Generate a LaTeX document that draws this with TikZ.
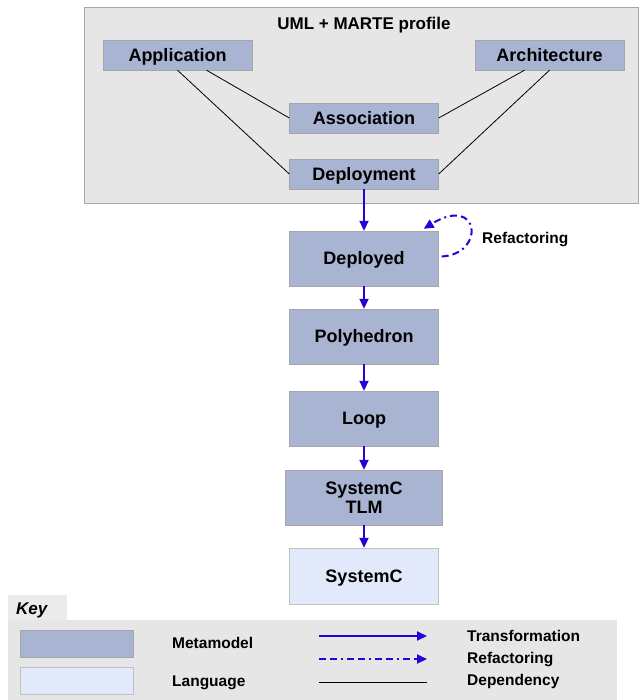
\documentclass[tikz,border=0pt]{standalone}
\usepackage{fontspec}
\setmainfont{Liberation Sans}
\usetikzlibrary{arrows.meta}

\definecolor{metafill}{HTML}{A9B4D3}
\definecolor{langfill}{HTML}{E1E9FB}
\definecolor{panelfill}{HTML}{E6E6E6}
\definecolor{panelline}{HTML}{A6A6A6}
\definecolor{flowblue}{HTML}{2A00D8}

\begin{document}
\begin{tikzpicture}
  [x=1pt,y=-1pt,every node/.style={inner sep=0pt,text depth=0pt,font=\bfseries\fontsize{18}{21}\selectfont}]

  \tikzstyle{metamodel} = [draw=panelline, fill=metafill, minimum width=149pt, minimum height=30pt, align=center, text height=12.9pt]
  \tikzstyle{language}  = [metamodel, draw=panelline!70, fill=langfill]
  \tikzstyle{keytext}   = [anchor=west, text height=11.1pt, font=\bfseries\fontsize{15.5}{18}\selectfont]
  \tikzstyle{transform} = [-{Triangle[length=10pt,width=9pt]}, flowblue, line width=2pt]
  \tikzstyle{refactor}  = [transform, dash pattern=on 7pt off 4pt on 7pt off 4pt on 2pt off 4pt]
  \tikzstyle{dependency}= [black, line width=0.8pt]

  \useasboundingbox (0,0) rectangle (639,700);

  % profile panel
  \draw[panelline, fill=panelfill, line width=1pt] (84,8) rectangle (638.5,203.5);
  \node[text height=12.2pt] (profile) at (364,23) {\fontsize{17}{20}\selectfont UML + MARTE profile};

  \node[metamodel] (app)    at (177.5,55) {Application};
  \node[metamodel] (arch)   at (549.5,55) {Architecture};
  \node[metamodel] (assoc)  at (364,118)  {Association};
  \node[metamodel] (deploy) at (364,174)  {Deployment};

  \draw[dependency] ([xshift=29pt]app.south)   -- (assoc.west);
  \draw[dependency] (app.south)                -- (deploy.west);
  \draw[dependency] ([xshift=-25pt]arch.south) -- (assoc.east);
  \draw[dependency] (arch.south)               -- (deploy.east);

  % transformation chain
  \node[metamodel, minimum height=55pt] (deployed) at (364,258.5) {Deployed};
  \node[metamodel, minimum height=55pt] (poly)     at (364,336.5) {Polyhedron};
  \node[metamodel, minimum height=55pt] (loop)     at (364,418.5) {Loop};
  \node[metamodel, minimum height=55pt, minimum width=157pt, text height=31.9pt] (tlm) at (364,497.5) {SystemC\\[-2pt]TLM};
  \node[language, minimum height=56pt]  (sysc)     at (364,576)   {SystemC};

  \draw[transform] (deploy)   -- (deployed);
  \draw[transform] (deployed) -- (poly);
  \draw[transform] (poly)     -- (loop);
  \draw[transform] (loop)     -- (tlm);
  \draw[transform] (tlm)      -- (sysc);

  \draw[refactor] ([xshift=3pt,yshift=2pt]deployed.east)
        .. controls (486,254) and (480,194) .. ([xshift=-15pt,yshift=2pt]deployed.north east);
  \node[keytext] (reflabel) at (482,238) {Refactoring};

  % key
  \fill[panelfill!80!white] (8,595) rectangle (67,620);
  \fill[panelfill] (8,620) rectangle (617,700);
  \node[anchor=west, text height=12.2pt, font=\bfseries\itshape\fontsize{17}{20}\selectfont] (key) at (16,608) {Key};

  \node[metamodel, minimum width=113pt, minimum height=27pt] (metaswatch) at (76.5,643.5) {};
  \node[language,  minimum width=113pt, minimum height=27pt] (langswatch) at (76.5,680.5) {};
  \node[keytext] (metatext) at (172,643) {Metamodel};
  \node[keytext] (langtext) at (172,681) {Language};

  \coordinate (ta) at (319,636);  \coordinate (tb) at (427,636);
  \coordinate (ra) at (319,659);  \coordinate (rb) at (427,659);
  \coordinate (da) at (319,682);  \coordinate (db) at (427,682);
  \draw[transform]  (ta) -- (tb);
  \draw[refactor]   (ra) -- (rb);
  \draw[dependency] (da) -- (db);
  \node[keytext] (transtext) at (467,636) {Transformation};
  \node[keytext] (reftext)   at (467,658) {Refactoring};
  \node[keytext] (deptext)   at (467,680) {Dependency};
\end{tikzpicture}
\end{document}
